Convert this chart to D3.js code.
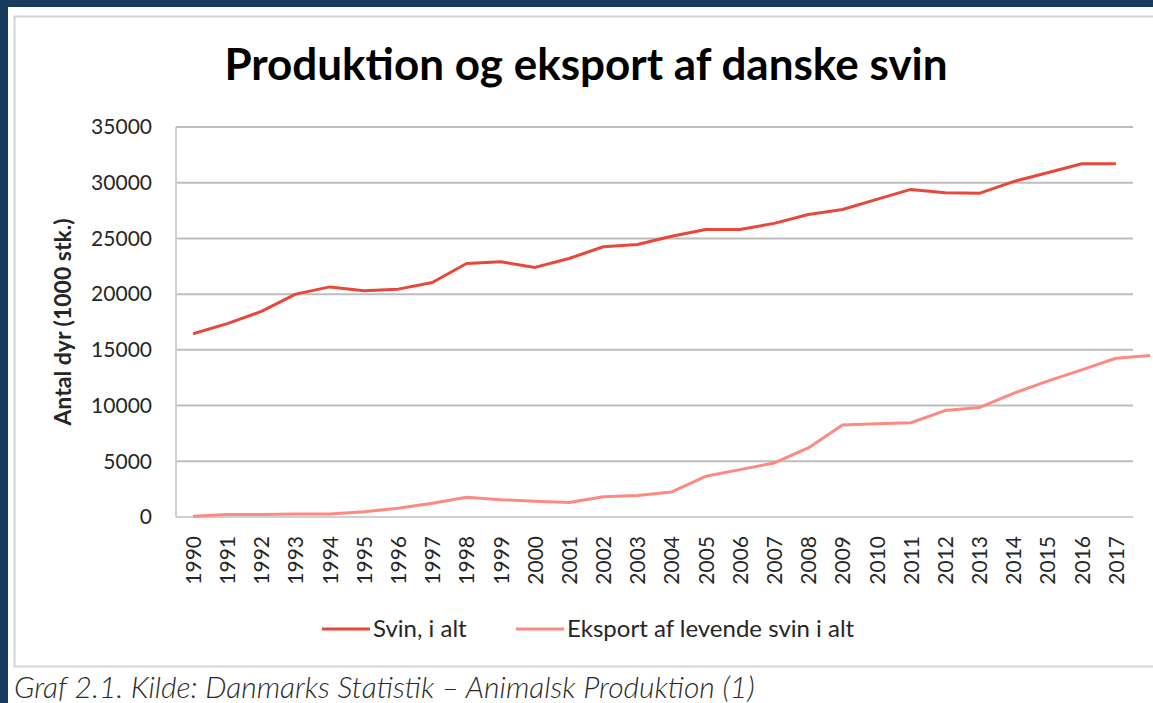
<!DOCTYPE html>
<html>
<head>
    <meta charset="utf-8">
    <title>Produktion og eksport af danske svin</title>
    <script src="https://d3js.org/d3.v7.min.js"></script>
    <style>
        body { margin: 0; background: #173a5e; }
        text { font-family: Lato, "Open Sans", sans-serif; fill: #262626; }
    </style>
</head>
<body>
<div id="chart"></div>
<script>
    // data (1000 stk.)
    var years = [1990, 1991, 1992, 1993, 1994, 1995, 1996, 1997, 1998, 1999,
                 2000, 2001, 2002, 2003, 2004, 2005, 2006, 2007, 2008, 2009,
                 2010, 2011, 2012, 2013, 2014, 2015, 2016, 2017];
    var svinIAlt = [16450, 17350, 18450, 20000, 20650, 20300, 20450, 21050, 22750, 22900,
                    22400, 23200, 24250, 24450, 25200, 25800, 25800, 26350, 27150, 27600,
                    28500, 29400, 29100, 29050, 30100, 30900, 31700, 31700];
    // the export line runs on past 2017 (cut off at the edge)
    var eksportYears = years.concat([2018]);
    var eksport = [60, 220, 220, 280, 280, 480, 780, 1230, 1770, 1550,
                   1420, 1300, 1820, 1930, 2250, 3650, 4250, 4850, 6200, 8250,
                   8370, 8460, 9550, 9820, 11100, 12200, 13200, 14250, 14500];
    var yTicks = [0, 5000, 10000, 15000, 20000, 25000, 30000, 35000];
    var seriesNames = ["Svin, i alt", "Eksport af levende svin i alt"];
    var colors = ["#e8473b", "#fd8a82"];

    var W = 1153, H = 703;
    var svg = d3.select("#chart").append("svg")
        .attr("width", W).attr("height", H);

    // white page + chart frame
    svg.append("rect").attr("x", 8).attr("y", 7).attr("width", W - 8).attr("height", H - 7)
        .attr("fill", "#fff");
    svg.append("rect").attr("x", 14.5).attr("y", 16.5).attr("width", W).attr("height", 650)
        .attr("fill", "none").attr("stroke", "#d4d4d4").attr("stroke-width", 2);

    var plot = { left: 176, right: 1133, top: 127, bottom: 517 };

    var x = d3.scaleLinear()
        .domain([years[0] - 0.5, years[years.length - 1] + 0.5])
        .range([plot.left, plot.right]);
    var y = d3.scaleLinear()
        .domain([0, 35000])
        .range([plot.bottom, plot.top]);

    // title
    svg.append("text")
        .attr("x", 586).attr("y", 80)
        .attr("text-anchor", "middle")
        .style("font-size", "44px").style("font-weight", "bold").style("fill", "#000")
        .text("Produktion og eksport af danske svin");

    // gridlines
    svg.append("g").selectAll("line")
        .data(yTicks)
        .enter().append("line")
        .attr("x1", plot.left).attr("x2", plot.right)
        .attr("y1", function(d) { return y(d); })
        .attr("y2", function(d) { return y(d); })
        .attr("stroke", function(d) { return d === 0 ? "#d0d0d0" : "#bdbdbd"; })
        .attr("stroke-width", 2);

    // left axis line
    svg.append("line")
        .attr("x1", plot.left).attr("x2", plot.left)
        .attr("y1", plot.top).attr("y2", plot.bottom)
        .attr("stroke", "#d0d0d0").attr("stroke-width", 2);

    // y axis labels
    var yAxis = svg.append("g")
        .attr("transform", "translate(" + (plot.left - 10) + ",0)")
        .call(d3.axisLeft(y).tickValues(yTicks).tickSize(0).tickPadding(14)
                .tickFormat(d3.format("d")));
    yAxis.select(".domain").remove();
    yAxis.selectAll("text").style("font-size", "21px").style("fill", "#262626")
        .style("font-family", "Lato, sans-serif");

    svg.append("text")
        .attr("transform", "translate(71," + y(17500) + ") rotate(-90)")
        .attr("text-anchor", "middle")
        .style("font-size", "23px").style("font-weight", "bold")
        .text("Antal dyr (1000 stk.)");

    // x axis labels, rotated
    var xAxis = svg.append("g")
        .attr("transform", "translate(0," + plot.bottom + ")")
        .call(d3.axisBottom(x).tickValues(years).tickSize(0).tickFormat(d3.format("d")));
    xAxis.select(".domain").remove();
    xAxis.selectAll("text")
        .attr("transform", "rotate(-90)")
        .attr("x", -19).attr("y", 0).attr("dy", "0.35em")
        .style("text-anchor", "end")
        .style("font-size", "21px").style("fill", "#262626")
        .style("font-family", "Lato, sans-serif");

    // lines
    var line = d3.line()
        .x(function(d) { return x(d[0]); })
        .y(function(d) { return y(d[1]); });

    svg.append("path")
        .datum(d3.zip(eksportYears, eksport))
        .attr("d", line)
        .attr("fill", "none").attr("stroke", colors[1]).attr("stroke-width", 3)
        .attr("stroke-linejoin", "round");

    svg.append("path")
        .datum(d3.zip(years, svinIAlt))
        .attr("d", line)
        .attr("fill", "none").attr("stroke", colors[0]).attr("stroke-width", 3)
        .attr("stroke-linejoin", "round");

    // legend
    var legendX = [322, 516];
    var legend = svg.append("g").selectAll("g")
        .data(seriesNames)
        .enter().append("g")
        .attr("transform", function(d, i) { return "translate(" + legendX[i] + ",629)"; });
    legend.append("line")
        .attr("x1", 0).attr("x2", 48)
        .attr("stroke", function(d, i) { return colors[i]; })
        .attr("stroke-width", 3);
    legend.append("text")
        .attr("x", 51).attr("dy", "0.35em")
        .style("font-size", "24px")
        .text(function(d) { return d; });

    // caption
    svg.append("text")
        .attr("x", 14).attr("y", 698)
        .style("font-size", "30px").style("font-style", "italic").style("fill", "#2a2a2a")
        .style("font-weight", "300")
        .text("Graf 2.1. Kilde: Danmarks Statistik \u2013 Animalsk Produktion (1)");
</script>
</body>
</html>
